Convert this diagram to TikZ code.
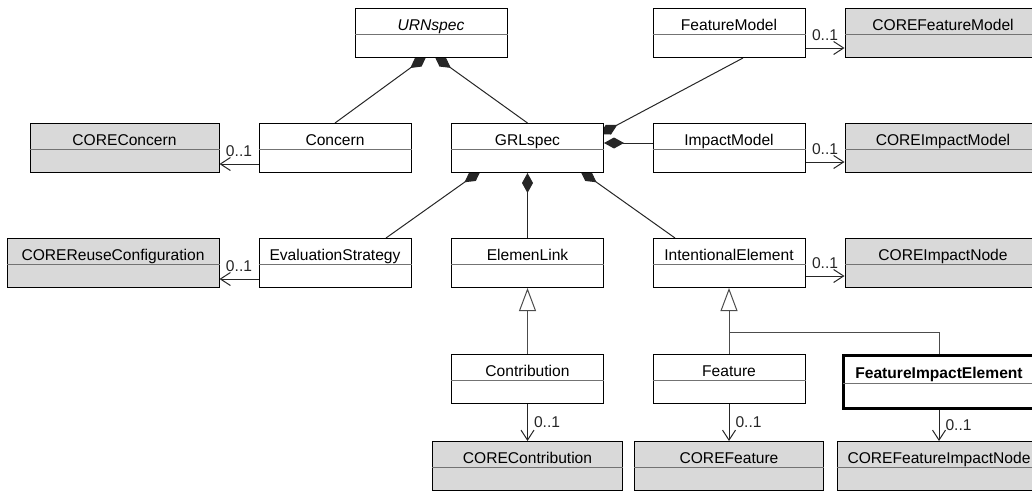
\documentclass[tikz,border=0pt]{standalone}
\usepackage{fontspec}
\setmainfont{Liberation Sans}
\usetikzlibrary{arrows.meta,shapes.multipart,backgrounds}

\tikzset{
  cls/.style={rectangle split,rectangle split parts=2,rectangle split draw splits=false,
    draw,fill=white,line width=1pt,anchor=north,inner xsep=0pt,inner ysep=0pt,align=center},
  core/.style={cls,fill=black!15},
  split/.style={black!55,line width=1pt},
  comp/.style={-{Diamond[length=20pt,width=11pt]},line width=1pt,black!85},
  gen/.style={-{Triangle[open,length=23pt,width=17pt,fill=white]},line width=1pt,black!70},
  assoc/.style={-{Straight Barb[length=10pt,width=13pt]},line width=1pt,black!85},
  mult/.style={above=7pt,inner sep=0pt},
  multr/.style={right=6pt,inner sep=0pt},
}
% name compartment + empty attribute compartment
\newcommand{\clsname}[1]{\rule[-4pt]{0pt}{25pt}#1\nodepart{two}\rule{0pt}{22pt}}

\begin{document}
\begin{tikzpicture}[x=1pt,y=-1pt,font=\fontsize{15.6}{18}\selectfont]
\useasboundingbox (0,0) rectangle (1032,490);

% top row
\node[cls,text width=152pt] (urn) at (431,8) {\clsname{\textit{URNspec}}};
\node[cls,text width=152pt] (fm) at (729,8) {\clsname{FeatureModel}};
\node[core,text width=196pt] (cfm) at (943,8) {\clsname{COREFeatureModel}};

% second row
\node[core,text width=189pt] (ccon) at (124.5,123) {\clsname{COREConcern}};
\node[cls,text width=152pt] (concern) at (335,123) {\clsname{Concern}};
\node[cls,text width=152pt] (grl) at (527.5,123) {\clsname{GRLspec}};
\node[cls,text width=152pt] (im) at (729,123) {\clsname{ImpactModel}};
\node[core,text width=196pt] (cim) at (943,123) {\clsname{COREImpactModel}};

% third row
\node[core,text width=212pt] (creuse) at (113,238) {\clsname{COREReuseConfiguration}};
\node[cls,text width=152pt] (eval) at (335,238) {\clsname{EvaluationStrategy}};
\node[cls,text width=152pt] (link) at (527.5,238) {\clsname{ElemenLink}};
\node[cls,text width=152pt] (intel) at (729,238) {\clsname{IntentionalElement}};
\node[core,text width=196pt] (cnode) at (943,238) {\clsname{COREImpactNode}};

% subclasses
\node[cls,text width=152pt] (contrib) at (527.5,354) {\clsname{Contribution}};
\node[cls,text width=152pt] (feat) at (729,354) {\clsname{Feature}};
\node[cls,text width=192pt,line width=3pt] (fie) at (939,354) {\clsname{\textbf{FeatureImpactElement}}};

% bottom row
\node[core,text width=190pt] (ccontrib) at (527.5,441) {\clsname{COREContribution}};
\node[core,text width=189pt] (cfeat) at (729,441) {\clsname{COREFeature}};
\node[core,text width=204pt] (cfin) at (939,441) {\clsname{COREFeatureImpactNode}};

\foreach \c in {urn,fm,cfm,ccon,concern,grl,im,cim,creuse,eval,link,intel,cnode,
                contrib,feat,ccontrib,cfeat,cfin}
  \draw[split] (\c.text split west) -- (\c.text split east);
\draw[split] ([xshift=1.5pt]fie.text split west) -- ([xshift=-1.5pt]fie.text split east);

\coordinate (genjoin) at (729,332);

\begin{scope}[on background layer]
% compositions
\draw[comp,shorten >=-3pt] (concern.north) -- ([xshift=-7pt]urn.south);
\draw[comp,shorten >=-3pt] (grl.north) -- ([xshift=6pt]urn.south);
\draw[comp,shorten >=-5pt] ([xshift=14pt]fm.south) -- ([yshift=-9pt]grl.north east);
\draw[comp] ([yshift=-20pt]im.north west) -- ([yshift=-20pt]grl.north east);
\draw[comp,shorten >=-4pt] ([xshift=51pt]eval.north) -- ([xshift=-50pt]grl.south);
\draw[comp] (link.north) -- (grl.south);
\draw[comp,shorten >=-4pt] ([xshift=-54pt]intel.north) -- ([xshift=56pt]grl.south);

% generalizations
\draw[gen] (contrib.north) -- (link.south);
\draw[gen] (feat.north) -- (intel.south);
\draw[line width=1pt,black!70] (fie.north) |- (genjoin);

% associations
\draw[assoc] ([yshift=9pt]concern.south west) -- node[mult]{0..1} ([yshift=9pt]ccon.south east);
\draw[assoc] ([yshift=9pt]eval.south west) -- node[mult]{0..1} ([yshift=9pt]creuse.south east);
\draw[assoc] ([yshift=10pt]fm.south east) -- node[mult]{0..1} ([yshift=10pt]cfm.south west);
\draw[assoc] ([yshift=11pt]im.south east) -- node[mult]{0..1} ([yshift=11pt]cim.south west);
\draw[assoc] ([yshift=12pt]intel.south east) -- node[mult]{0..1} ([yshift=12pt]cnode.south west);
\draw[assoc] (contrib.south) -- node[multr]{0..1} (ccontrib.north);
\draw[assoc] (feat.south) -- node[multr]{0..1} (cfeat.north);
\draw[assoc] (fie.south) -- node[multr]{0..1} (cfin.north);
\end{scope}

\end{tikzpicture}
\end{document}
